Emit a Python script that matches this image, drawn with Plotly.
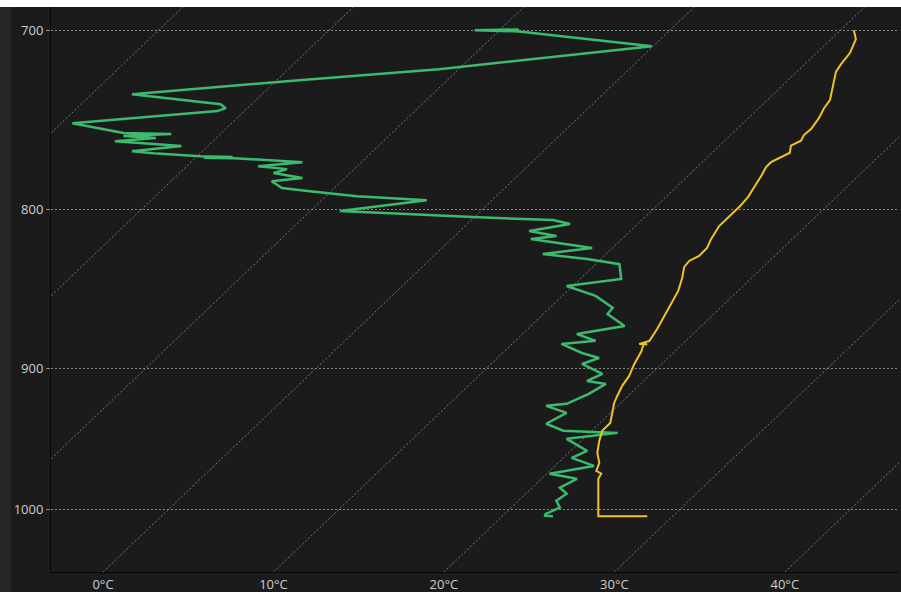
import math
import plotly.graph_objects as go

# ---------------- data ----------------
pressure_ticks = [700, 800, 900, 1000]
temp_ticks = [0, 10, 20, 30, 40]
temp_tick_labels = ["0°C", "10°C", "20°C", "30°C", "40°C"]
iso_temps = [-40, -30, -20, -10, 0, 10, 20, 30, 40, 50]

P_BOTTOM = 1047.5
P_TOP = 688.0
SKEW = 190.0  # deg C shift per decade of pressure for the dotted isotherms

yellow_p = [700.0, 704.7, 712.0, 718.0, 722.0, 731.4, 737.4, 741.8, 747.3, 753.4,
            756.8, 760.0, 762.8, 766.8, 769.0, 772.2, 775.0, 779.5, 786.7, 792.5,
            797.8, 803.2, 809.8, 817.6, 823.1, 828.0, 831.1, 834.8, 841.7, 850.0,
            858.1, 869.0, 874.2, 882.1, 884.0, 884.3, 884.6, 889.0, 897.3, 905.3,
            912.0, 918.9, 923.7, 930.5, 937.5, 943.0, 950.0, 958.6, 965.8, 971.5,
            973.6, 977.3, 1003.0, 1005.0, 1005.0]
yellow_t = [44.05, 44.17, 43.82, 43.29, 43.0, 42.77, 42.65, 42.3, 42.0, 41.54,
            41.12, 40.95, 40.36, 40.3, 39.84, 39.19, 38.9, 38.66, 38.2, 37.84,
            37.38, 36.85, 36.15, 35.68, 35.44, 34.97, 34.39, 34.1, 33.98, 33.74,
            33.33, 32.75, 32.51, 32.05, 31.46, 31.93, 31.7, 31.58, 31.17, 30.87,
            30.46, 30.17, 29.99, 29.88, 29.76, 29.29, 29.12, 29.0, 29.12, 28.94,
            29.23, 29.06, 29.06, 29.06, 31.93]

green_p = [699.6, 700.0, 700.6, 704.2, 708.4, 720.6, 726.5, 734.1, 739.6, 741.8,
           743.4, 750.1, 755.6, 756.2, 757.3, 758.5, 760.2, 763.0, 765.9, 767.3,
           768.8, 769.3, 769.6, 769.9, 772.2, 774.5, 776.2, 778.5, 781.4, 783.2,
           787.2, 789.0, 792.0, 794.4, 800.8, 804.4, 806.2, 808.6, 812.8, 815.8,
           817.6, 823.1, 826.8, 829.9, 833.1, 842.3, 846.7, 853.0, 860.6, 864.5,
           872.3, 877.5, 882.0, 884.0, 890.0, 893.3, 897.3, 904.0, 908.7, 910.7,
           917.5, 924.3, 925.7, 930.5, 938.1, 943.0, 944.5, 948.7, 957.2, 962.2,
           968.0, 973.6, 977.3, 983.8, 988.2, 993.4, 998.5, 1003.0, 1004.6, 1005.0]
green_t = [24.4, 21.8, 24.4, 28.2, 32.2, 19.7, 11.5, 1.7, 6.9, 7.2,
           6.7, -1.8, 1.2, 4.0, 1.2, 3.1, 0.7, 4.6, 1.7, 3.2,
           5.7, 7.6, 5.9, 7.7, 11.7, 9.1, 10.8, 10.0, 11.7, 9.9,
           10.5, 12.0, 14.9, 19.0, 13.9, 21.7, 26.4, 27.4, 25.0, 26.6,
           25.1, 28.7, 25.8, 28.4, 30.3, 30.4, 27.2, 28.9, 29.9, 29.6,
           30.6, 27.8, 28.9, 26.9, 28.1, 29.1, 28.1, 29.3, 28.4, 29.5,
           28.5, 27.2, 26.0, 27.2, 26.0, 27.0, 30.2, 27.2, 28.4, 27.5,
           28.8, 26.2, 27.8, 26.8, 27.2, 26.6, 26.8, 26.0, 25.9, 26.4]

# ---------------- figure ----------------
fig = go.Figure()

iso_shift = SKEW * (math.log10(P_BOTTOM) - math.log10(P_TOP))
for t in iso_temps:
    fig.add_trace(go.Scatter(
        x=[t, t + iso_shift], y=[P_BOTTOM, P_TOP], mode="lines",
        line=dict(color="#7a7a7a", width=1, dash="2px,2px"),
        hoverinfo="skip", showlegend=False))

fig.add_trace(go.Scatter(
    x=green_t, y=green_p, mode="lines",
    line=dict(color="#3cba6e", width=2.5), showlegend=False))
fig.add_trace(go.Scatter(
    x=yellow_t, y=yellow_p, mode="lines",
    line=dict(color="#f0c22a", width=2), showlegend=False))

W, H = 901, 592
ml, mr, mt, mb = 51, 2, 7, 20
pw, ph = W - ml - mr, H - mt - mb

fig.update_layout(
    width=W, height=H,
    margin=dict(l=ml, r=mr, t=mt, b=mb, pad=0, autoexpand=False),
    paper_bgcolor="#1b1b1b", plot_bgcolor="#1b1b1b",
    hovermode=False,
    font=dict(family="Open Sans", size=13, color="#cfcfcf"),
    xaxis=dict(range=[-3.05, 46.7], tickvals=temp_ticks, ticktext=temp_tick_labels,
               showgrid=False, zeroline=False, showline=True, linecolor="#050505",
               linewidth=1, ticks="", automargin=False,
               tickfont=dict(size=13, color="#cfcfcf")),
    yaxis=dict(type="log", range=[math.log10(P_BOTTOM), math.log10(P_TOP)],
               tickvals=pressure_ticks, ticktext=[str(v) for v in pressure_ticks],
               showgrid=True, gridcolor="#858585", gridwidth=1, griddash="2px,2px",
               zeroline=False, showline=True, linecolor="#050505", linewidth=1,
               ticks="outside", ticklen=4, tickcolor="#8a8a8a", automargin=False,
               tickfont=dict(size=13, color="#cfcfcf")),
    shapes=[
        dict(type="rect", xref="paper", yref="paper", layer="below",
             x0=-ml / pw, x1=(11 - ml) / pw, y0=-mb / ph, y1=1 + mt / ph,
             fillcolor="#252525", line=dict(width=0)),
        dict(type="rect", xref="paper", yref="paper", layer="above",
             x0=-ml / pw, x1=1 + mr / pw, y0=1, y1=1 + mt / ph + 0.01,
             fillcolor="#ffffff", line=dict(width=0)),
    ],
)

fig.write_html(
    "out.html",
    config={"displayModeBar": False},
    post_script="document.body.style.margin='0';document.body.style.overflow='hidden';",
)
